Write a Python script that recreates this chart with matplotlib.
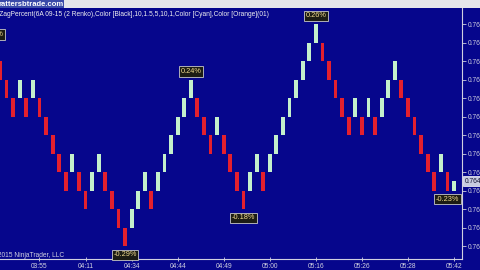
import matplotlib
matplotlib.use("Agg")
import matplotlib.pyplot as plt
from matplotlib.patches import Rectangle
from matplotlib.transforms import blended_transform_factory

plt.rcParams['font.family'] = ['Liberation Sans', 'DejaVu Sans']

# renko bricks (6A 09-15, 2 tick bricks), read left to right
brick_open = [0.7654, 0.7652, 0.7650, 0.7650, 0.7650, 0.7650, 0.7650, 0.7648, 0.7646, 0.7644,
              0.7642, 0.7642, 0.7642, 0.7640, 0.7640, 0.7642, 0.7642, 0.7640, 0.7638, 0.7636,
              0.7636, 0.7638, 0.7640, 0.7640, 0.7640, 0.7642, 0.7644, 0.7646, 0.7648, 0.7650,
              0.7650, 0.7648, 0.7646, 0.7646, 0.7646, 0.7644, 0.7642, 0.7640, 0.7640, 0.7642,
              0.7642, 0.7642, 0.7644, 0.7646, 0.7648, 0.7650, 0.7652, 0.7654, 0.7656, 0.7656,
              0.7654, 0.7652, 0.7650, 0.7648, 0.7648, 0.7648, 0.7648, 0.7648, 0.7648, 0.7650,
              0.7652, 0.7652, 0.7650, 0.7648, 0.7646, 0.7644, 0.7642, 0.7642, 0.7642, 0.7640]
brick_close = [0.7652, 0.7650, 0.7648, 0.7652, 0.7648, 0.7652, 0.7648, 0.7646, 0.7644, 0.7642,
               0.7640, 0.7644, 0.7640, 0.7638, 0.7642, 0.7644, 0.7640, 0.7638, 0.7636, 0.7634,
               0.7638, 0.7640, 0.7642, 0.7638, 0.7642, 0.7644, 0.7646, 0.7648, 0.7650, 0.7652,
               0.7648, 0.7646, 0.7644, 0.7648, 0.7644, 0.7642, 0.7640, 0.7638, 0.7642, 0.7644,
               0.7640, 0.7644, 0.7646, 0.7648, 0.7650, 0.7652, 0.7654, 0.7656, 0.7658, 0.7654,
               0.7652, 0.7650, 0.7648, 0.7646, 0.7650, 0.7646, 0.7650, 0.7646, 0.7650, 0.7652,
               0.7654, 0.7650, 0.7648, 0.7646, 0.7644, 0.7642, 0.7640, 0.7644, 0.7640, 0.7641]

# zigzag swing points and their percent labels
zz_index = [-1, 19, 29, 37, 48, 68]
zz_price = [0.7656, 0.7634, 0.7652, 0.7638, 0.7658, 0.7640]
zz_label = ["0.21%", "-0.29%", "0.24%", "-0.18%", "0.26%", "-0.23%"]

time_index = [6, 13, 20, 27, 34, 41, 48, 55, 62, 69]
time_label = ["03:55", "04:11", "04:34", "04:44", "04:49", "05:00", "05:16", "05:26", "05:28", "05:42"]

price_ticks = [0.7658, 0.7656, 0.7654, 0.7652, 0.7650, 0.7648, 0.7646, 0.7644,
               0.7642, 0.7640, 0.7638, 0.7636, 0.7634]
last_price = 0.7641

bg = '#06068c'
up_col = '#c4f0cc'
dn_col = '#e4202e'
fg = '#d0d0e0'

fig = plt.figure(figsize=(4.8, 2.7), dpi=100, facecolor=bg)
ax = fig.add_axes([0, 11 / 270, 462 / 480, 251 / 270])
ax.set_facecolor(bg)

x = list(range(len(brick_open)))
heights = [c - o for o, c in zip(brick_open, brick_close)]
colors = [up_col if c > o else dn_col for o, c in zip(brick_open, brick_close)]
ax.bar(x, heights, bottom=brick_open, width=0.58, color=colors, linewidth=0)

ax.set_xlim(0, 462 / 6.58)
ax.set_ylim(0.76326, 0.765973)

box = dict(boxstyle='square,pad=0.22', facecolor='#1c1c14', edgecolor='#c8c8c8', linewidth=0.6)
for i, p, t in zip(zz_index, zz_price, zz_label):
    off = 5.8 if not t.startswith('-') else -6.2
    ax.annotate(t, (i, p), xytext=(0, off), textcoords='offset points',
                ha='center', va='center', fontsize=5.3, color='#f2dc90', bbox=box,
                annotation_clip=False)

for s in ['top', 'left']:
    ax.spines[s].set_visible(False)
for s in ['right', 'bottom']:
    ax.spines[s].set_color(fg)
    ax.spines[s].set_linewidth(0.8)

ax.yaxis.tick_right()
ax.set_yticks(price_ticks)
ax.set_yticklabels([f"{p:.4f}" for p in price_ticks])
ax.set_xticks(time_index)
ax.set_xticklabels(time_label)
ax.tick_params(axis='y', colors=fg, labelsize=4.8, length=3, width=0.6, pad=1)
ax.tick_params(axis='x', colors=fg, labelsize=4.8, length=3, width=0.6, pad=1.5, direction='inout')

# last price marker on the price axis
tr = blended_transform_factory(ax.transAxes, ax.transData)
ax.text(1.006, last_price, f"{last_price:.4f}", transform=tr, ha='left', va='center',
        fontsize=4.8, color='#101030',
        bbox=dict(boxstyle='square,pad=0.2', facecolor='#c8cce0', edgecolor='#ffffff', linewidth=0.5))

# window strip and chart texts
fig.patches.append(Rectangle((0, 262 / 270), 1, 8 / 270, transform=fig.transFigure,
                             facecolor='#e6e6ea', edgecolor='none'))
fig.text(-0.004, 266 / 270, "rattersbtrade.com", fontsize=5.5, fontweight='bold',
         color='#ffffff', va='center', ha='left',
         bbox=dict(boxstyle='square,pad=0.1', facecolor='#3a4aa8', edgecolor='none'))
fig.text(-0.021, 255 / 270,
         "ZigZagPercent(6A 09-15 (2 Renko),Color [Black],10,1.5,5,10,1,Color [Cyan],Color [Orange](01)",
         fontsize=4.8, color='#f0f0f0', va='center', ha='left')
fig.text(-0.014, 15 / 270, "\u00a92015 NinjaTrader, LLC", fontsize=4.8, color=fg,
         va='center', ha='left')

fig.savefig("out.png", dpi=100, facecolor=bg)
